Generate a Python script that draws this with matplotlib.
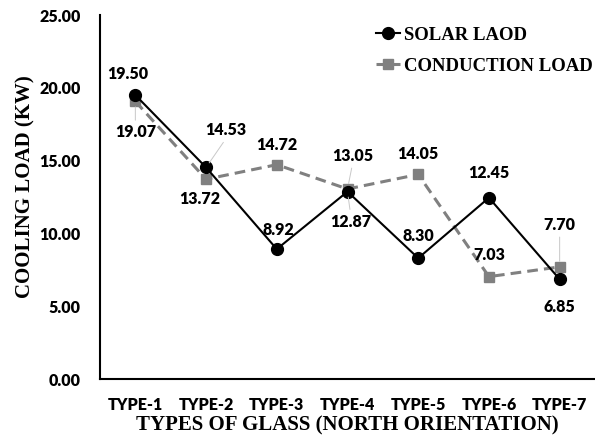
import matplotlib
matplotlib.use("Agg")
import matplotlib.pyplot as plt

categories = ["TYPE-1", "TYPE-2", "TYPE-3", "TYPE-4", "TYPE-5", "TYPE-6", "TYPE-7"]
solar_load = [19.50, 14.53, 8.92, 12.87, 8.30, 12.45, 6.85]
conduction_load = [19.07, 13.72, 14.72, 13.05, 14.05, 7.03, 7.70]
y_ticks = [0, 5, 10, 15, 20, 25]

# label offsets in pixels (dx, dy) from each point
solar_offsets = [(-8, 21), (20, 37), (2, 19), (3, -30), (0, 22), (0, 25), (0, -28)]
cond_offsets = [(0, -31), (-6, -20), (0, 20), (5, 33), (0, 20), (0, 22), (0, 42)]

tick_font = {"family": "Lato", "weight": "heavy", "size": 11.5}
serif_font = {"family": "Liberation Serif", "weight": "bold"}

fig = plt.figure(figsize=(5.95, 4.43), dpi=100)
ax = fig.add_axes([100 / 595, 64 / 443, 495 / 595, 364 / 443])

x = list(range(len(categories)))
ax.plot(x, solar_load, color="black", lw=1.5, marker="o", markersize=8.5,
        label="SOLAR LAOD", zorder=3)
ax.plot(x, conduction_load, color="#808080", lw=2.2, ls=(0, (3.5, 2)), marker="s",
        markersize=7.5, label="CONDUCTION LOAD", zorder=2)


def add_labels(values, offsets):
    for i, (v, (dx, dy)) in enumerate(zip(values, offsets)):
        va = "bottom" if dy > 0 else "top"
        txt_dy = dy - 8 if dy > 0 else dy + 8
        props = None
        if abs(dy) > 28:
            props = dict(arrowstyle="-", color="#c8c8c8", lw=0.7,
                         relpos=(0.5, 0) if dy > 0 else (0.5, 1),
                         shrinkA=1, shrinkB=4)
        ax.annotate("%.2f" % v, xy=(i, v), xytext=(dx, txt_dy),
                    textcoords="offset pixels", ha="center", va=va,
                    arrowprops=props, zorder=5, **tick_font)


add_labels(solar_load, solar_offsets)
add_labels(conduction_load, cond_offsets)

ax.set_xlim(-0.5, 6.5)
ax.set_ylim(0, 25)
ax.set_yticks(y_ticks)
ax.set_yticklabels(["%.2f" % t for t in y_ticks], fontdict=tick_font)
ax.set_xticks(x)
ax.set_xticklabels(categories, fontdict=tick_font)
ax.tick_params(length=0)
ax.tick_params(axis="x", pad=13)
ax.tick_params(axis="y", pad=14)

for s in ["top", "right"]:
    ax.spines[s].set_visible(False)
ax.spines["left"].set_linewidth(1.5)
ax.spines["bottom"].set_linewidth(1.5)

ax.set_ylabel("COOLING LOAD (KW)", fontsize=15, **serif_font)
ax.yaxis.set_label_coords(-65 / 495, (443 - 64 - 187) / 364)
ax.set_xlabel("TYPES OF GLASS (NORTH ORIENTATION)", fontsize=15, **serif_font)
ax.xaxis.set_label_coords(0.5, -(425 - 379) / 364)
ax.xaxis.label.set_verticalalignment("center")

ax.legend(loc="upper left", bbox_to_anchor=(268 / 495, 1.0 - 4 / 364), frameon=False,
          prop={"family": "Liberation Serif", "weight": "bold", "size": 13.5},
          handlelength=1.3, handletextpad=0.2, labelspacing=0.75, borderaxespad=0)

fig.savefig("out.png", dpi=100)
